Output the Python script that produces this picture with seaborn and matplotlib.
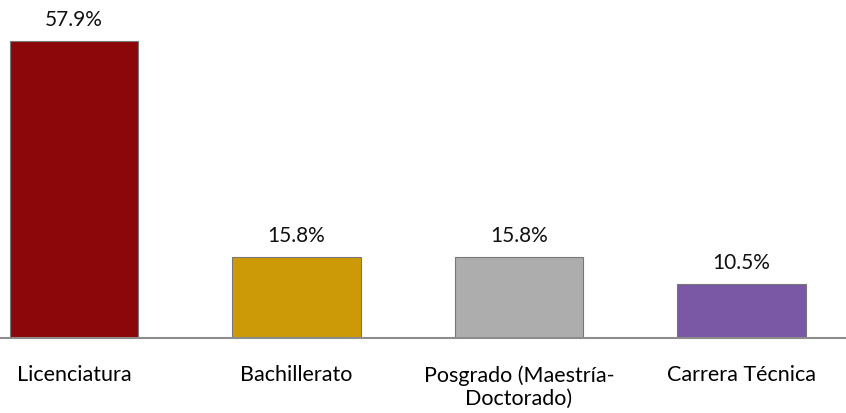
import pandas as pd
import matplotlib.pyplot as plt
import seaborn as sns

# ---- Data ---------------------------------------------------
categories = ["Licenciatura", "Bachillerato", "Posgrado (Maestría-\nDoctorado)", "Carrera Técnica"]
percentages = [57.9, 15.8, 15.8, 10.5]
value_labels = ["57.9%", "15.8%", "15.8%", "10.5%"]
bar_colors = ["#8C0709", "#CC9A06", "#ADADAD", "#7B58A6"]

df = pd.DataFrame({"nivel": categories, "pct": percentages})

sns.set_style("white")
plt.rcParams["font.family"] = ["Lato", "DejaVu Sans"]

fig = plt.figure(figsize=(8.46, 4.14), dpi=100)
ax = fig.add_axes([0, 0.181, 1, 0.819])

sns.barplot(
    data=df,
    x="nivel",
    y="pct",
    hue="nivel",
    palette=bar_colors,
    saturation=1,
    dodge=False,
    legend=False,
    width=0.576,
    edgecolor="#777777",
    linewidth=0.8,
    ax=ax,
)

# value labels above each bar
for i, (v, lab) in enumerate(zip(percentages, value_labels)):
    ax.annotate(lab, (i, v), xytext=(0, 9), textcoords="offset points",
                ha="center", va="bottom", fontsize=15, color="#111111")

ax.set_xlim(-0.333, 3.47)
ax.set_ylim(0, 66.1)
ax.set_xlabel("")
ax.set_ylabel("")
ax.set_yticks([])
for side in ["top", "right", "left"]:
    ax.spines[side].set_visible(False)
ax.spines["bottom"].set_color("#8C8C8C")
ax.spines["bottom"].set_linewidth(1.5)
ax.tick_params(axis="x", length=0, pad=19, labelsize=15.5, labelcolor="#000000")

plt.savefig("out.png", dpi=100)
plt.close()
